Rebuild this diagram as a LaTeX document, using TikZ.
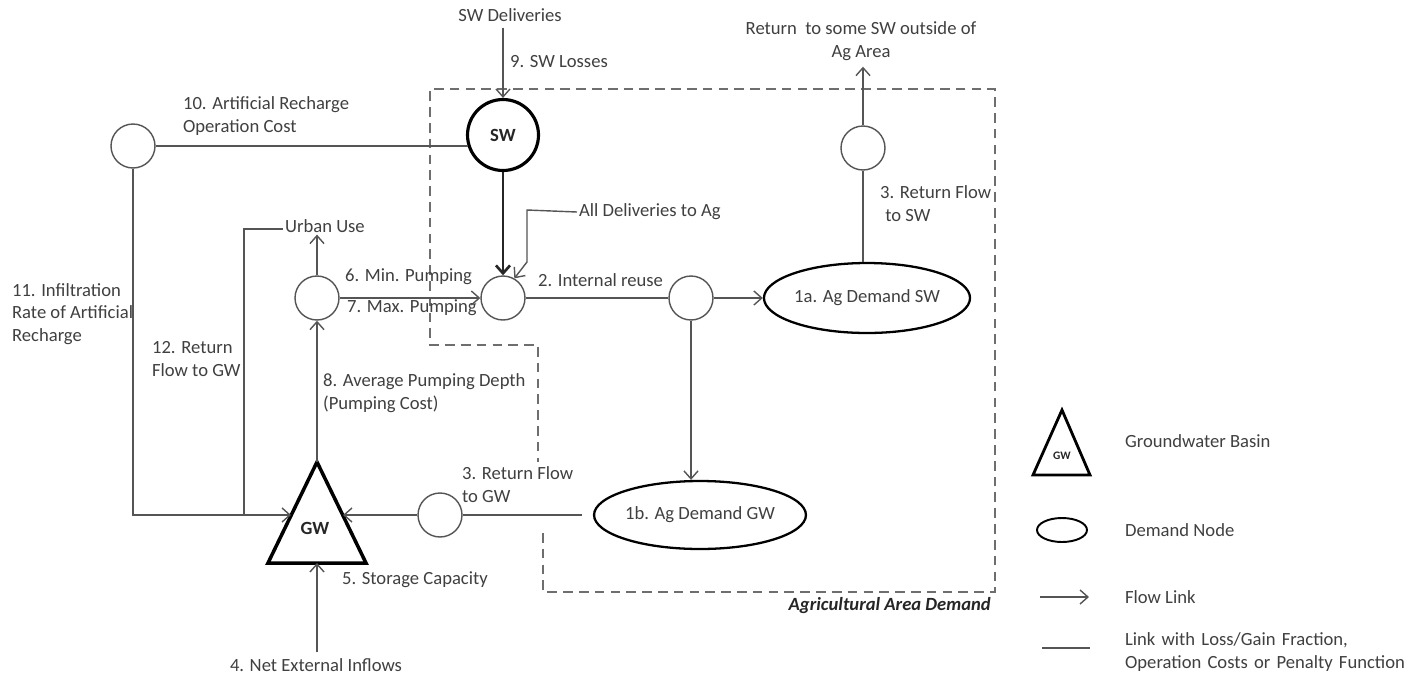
\documentclass[tikz,border=0pt]{standalone}
\usepackage{fontspec}
\setmainfont{Carlito}
\usetikzlibrary{arrows.meta,shapes.geometric}
\definecolor{txt}{RGB}{64,64,64}
\definecolor{ln}{RGB}{85,85,85}
\begin{document}
\begin{tikzpicture}[x=0.02cm,y=-0.02cm,
 every node/.style={font=\fontsize{10.6}{13}\selectfont, text=txt},
 lbl/.style={inner sep=1pt, align=left},
 link/.style={draw=ln, line width=0.8pt},
 flow/.style={link, -{Straight Barb[length=4.5pt,width=8pt]}},
 thickflow/.style={draw=black!85, line width=1.5pt, -{Straight Barb[length=4.5pt,width=8pt]}},
 smallc/.style={circle, draw=ln, line width=0.8pt, minimum size=0.88cm, inner sep=0},
 swc/.style={circle, draw=black, line width=1.8pt, minimum size=1.42cm, inner sep=0, font=\fontsize{10.6}{13}\selectfont\bfseries, text=black!85},
 demand/.style={ellipse, draw=black, line width=1.3pt, inner sep=0},
 dashbox/.style={draw=ln!85, line width=0.9pt, dash pattern=on 5.5pt off 3.5pt},
 gwtri/.style={draw=black, line width=2pt, line join=miter},
 boldlbl/.style={font=\fontsize{10.6}{13}\selectfont\bfseries, text=black!85}
]
\fill[white] (0,0) rectangle (1414,677);
\useasboundingbox (0,0) rectangle (1414,677);

% dashed agricultural area
\draw[dashbox] (543,533) -- (543,592) -- (995,592) -- (995,89) -- (430,89) -- (430,345) -- (538,345) -- (538,462);
\node[anchor=east, font=\fontsize{10.6}{13}\selectfont\bfseries\itshape, text=black!85] (agarea) at (997,606) {Agricultural Area Demand};

% nodes
\node (swdel) at (510,15) {SW Deliveries};
\node[swc] (sw) at (503,135) {SW};
\node[smallc] (rc) at (133,146) {};
\node[smallc] (pump) at (317,298) {};
\node[smallc] (del) at (503,298) {};
\node[smallc] (jn) at (691,298) {};
\node[smallc] (ret) at (863,148) {};
\node[smallc] (rgw) at (440,515) {};
\node[demand, minimum width=3.88cm, minimum height=1.4cm] (d1a) at (867,298) {1a. Ag Demand SW};
\node[demand, minimum width=3.92cm, minimum height=1.36cm] (d1b) at (700,515) {1b. Ag Demand GW};
\node[align=center] (retsw) at (861,41) {Return\ \ to some SW outside of\\Ag Area};
\node[anchor=west, inner sep=1pt] (urban) at (283,226) {Urban Use};
\node[anchor=west, inner sep=1pt] (alldel) at (577,212) {All Deliveries to Ag};
\node (inflow) at (316,665) {4. Net External Inflows};

% GW triangle
\coordinate (gwA) at (317,462);
\coordinate (gwBL) at (268,563);
\coordinate (gwBR) at (366,563);
\coordinate (gwL) at (291,515);
\coordinate (gwR) at (343,515);
\coordinate (gwB) at (317,563);
\draw[gwtri] (gwA) -- (gwBR) -- (gwBL) -- cycle;
\node[boldlbl] (gw) at (315,528) {GW};

% labels
\node[lbl, anchor=west] (l9) at (508,62) {9. SW Losses};
\node[lbl, anchor=west] (l10) at (181,116) {10. Artificial Recharge\\Operation Cost};
\node[lbl, anchor=west] (l11) at (10,314) {11. Infiltration\\Rate of Artificial\\Recharge};
\node[lbl, anchor=west] (l12) at (150,359) {12. Return\\Flow to GW};
\node[lbl, anchor=west] (l6) at (343,277) {6. Min. Pumping};
\node[lbl, anchor=west] (l7) at (345,308) {7. Max. Pumping};
\node[lbl, anchor=west] (l2) at (536,280) {2. Internal reuse};
\node[lbl, anchor=west] (l8) at (321,393) {8. Average Pumping Depth\\(Pumping Cost)};
\node[lbl, anchor=west] (l3gw) at (460,485) {3. Return Flow\\to GW};
\node[lbl, anchor=west] (l5) at (340,580) {5. Storage Capacity};
\node[lbl, anchor=west] (l3sw) at (878,204) {3. Return Flow\\\hspace{3pt}to SW};

% connectors
\draw[flow] (sw.north |- swdel.south) -- (sw.north);
\draw[link] (rc.east) -- (rc.east -| sw.198);
\coordinate (c1) at (133,515);
\draw[flow] (rc.south) -- (c1) -- (gwL);
\coordinate (c2) at (244,515);
\coordinate (c3) at (244,229);
\draw[link] (c2) -- (c3) -- (urban.west |- c3);
\draw[flow] (pump.north) -- (pump |- urban.south);
\draw[flow] (gwA) -- (pump.south);
\draw[flow] (pump.east) -- (del.west);
\draw[thickflow] (sw.south) -- (del.north);
\coordinate (c4) at (527,210);
\coordinate (c5) at (527,262);
\draw[flow] (alldel.west) -- (c4) -- (c5) -- (del.60);
\draw[link] (del.east) -- (jn.west);
\draw[flow] (jn.east) -- (d1a.west);
\draw[flow] (jn.south) -- (jn |- d1b.north);
\draw[link] (ret.south) -- (ret |- d1a.north);
\draw[flow] (ret.north) -- (ret |- retsw.south);
\draw[link] (rgw.east) -- ([xshift=-0.22cm]d1b.west);
\draw[flow] (rgw.west) -- (gwR);
\draw[flow] (inflow.north -| gwB) -- (gwB);

% legend
\coordinate (lgA) at (1062,410);
\coordinate (lgBL) at (1033,475);
\coordinate (lgBR) at (1090,475);
\draw[draw=black, line width=1.6pt, line join=miter] (lgA) -- (lgBR) -- (lgBL) -- cycle;
\node[font=\fontsize{6.5}{8}\selectfont\bfseries, text=black!85] (lggw) at (1062,456) {GW};
\node[lbl, anchor=west] (lgt1) at (1123,441) {Groundwater Basin};
\node[demand, line width=1.1pt, minimum width=1.0cm, minimum height=0.48cm] (lgell) at (1062,530) {};
\node[lbl, anchor=west] (lgt2) at (1123,530) {Demand Node};
\coordinate (lf1) at (1040,597);
\coordinate (lf2) at (1089,597);
\draw[flow] (lf1) -- (lf2);
\node[lbl, anchor=west] (lgt3) at (1123,597) {Flow Link};
\coordinate (ll1) at (1042,648);
\coordinate (ll2) at (1090,648);
\draw[link, line width=1pt] (ll1) -- (ll2);
\node[lbl, anchor=west, text width=7cm] (lgt4) at (1123,652) {Link with Loss/Gain Fraction,\\Operation Costs or Penalty Function};
\end{tikzpicture}
\end{document}
